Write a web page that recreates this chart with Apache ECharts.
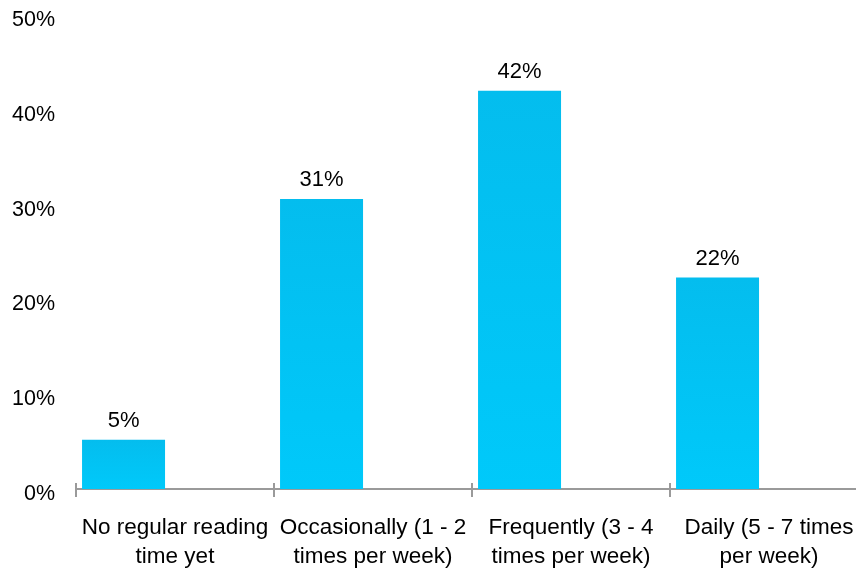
<!DOCTYPE html>
<html>
<head>
<meta charset="utf-8">
<script src="https://cdn.jsdelivr.net/npm/echarts@6/dist/echarts.min.js"></script>
<style>
  html, body { margin: 0; padding: 0; background: #fff; overflow: hidden; }
  /* the plot runs past the right edge of the window, so the canvas is wider */
  #chart { width: 880px; height: 571px; }
</style>
</head>
<body>
<div id="chart"></div>
<script>
// Reading frequency survey: share of respondents per category
const categories = [
  'No regular reading\ntime yet',
  'Occasionally (1 - 2\ntimes per week)',
  'Frequently (3 - 4\ntimes per week)',
  'Daily (5 - 7 times\nper week)'
];
const shares = [5.2, 30.6, 42.0, 22.3];
const yTicks = [0, 10, 20, 30, 40, 50];

const FONT = '"Liberation Sans", Arial, sans-serif';
const chart = echarts.init(document.getElementById('chart'));

chart.setOption({
  backgroundColor: '#ffffff',
  animation: false,
  textStyle: { fontFamily: FONT },
  grid: { left: 76, top: 15, width: 792, height: 477 },
  xAxis: [
    {
      type: 'category',
      data: categories,
      axisLine: { show: true, lineStyle: { color: '#9a9a9a', width: 2 } },
      axisTick: { show: true, length: 8, lineStyle: { color: '#9a9a9a', width: 2 } },
      axisLabel: {
        color: '#000', fontSize: 22.5, fontFamily: FONT,
        lineHeight: 29, margin: 24, interval: 0
      }
    },
    {
      // inward half of the crossing tick marks
      type: 'category',
      data: categories,
      position: 'bottom',
      axisLine: { show: false },
      axisTick: { show: true, inside: true, length: 6, lineStyle: { color: '#9a9a9a', width: 2 } },
      axisLabel: { show: false }
    }
  ],
  yAxis: {
    type: 'value',
    min: yTicks[0],
    max: yTicks[yTicks.length - 1],
    interval: 10,
    axisLine: { show: false },
    axisTick: { show: false },
    splitLine: { show: false },
    axisLabel: {
      color: '#000', fontSize: 21.5, fontFamily: FONT, margin: 21,
      formatter: v => '{pct|' + v + '%}',
      rich: {
        // tall line box with the text at its foot nudges labels slightly below the tick
        pct: { fontSize: 21.5, fontFamily: FONT, color: '#000', lineHeight: 32, verticalAlign: 'bottom' }
      }
    }
  },
  series: [
    {
      type: 'bar',
      name: 'Share',
      data: shares,
      barWidth: 83,
      barGap: '24%',
      itemStyle: {
        color: new echarts.graphic.LinearGradient(0, 0, 0, 1, [
          { offset: 0, color: '#04BDEE' },
          { offset: 1, color: '#00C9FA' }
        ])
      },
      label: {
        show: true,
        position: 'top',
        distance: 8,
        color: '#000',
        fontSize: 22,
        fontFamily: FONT,
        formatter: p => Math.round(p.value) + '%'
      }
    },
    {
      // empty slot that keeps each bar on the left side of its category
      type: 'bar',
      name: 'Slot',
      data: categories.map(() => null),
      barWidth: 83,
      silent: true
    }
  ]
});
</script>
</body>
</html>
